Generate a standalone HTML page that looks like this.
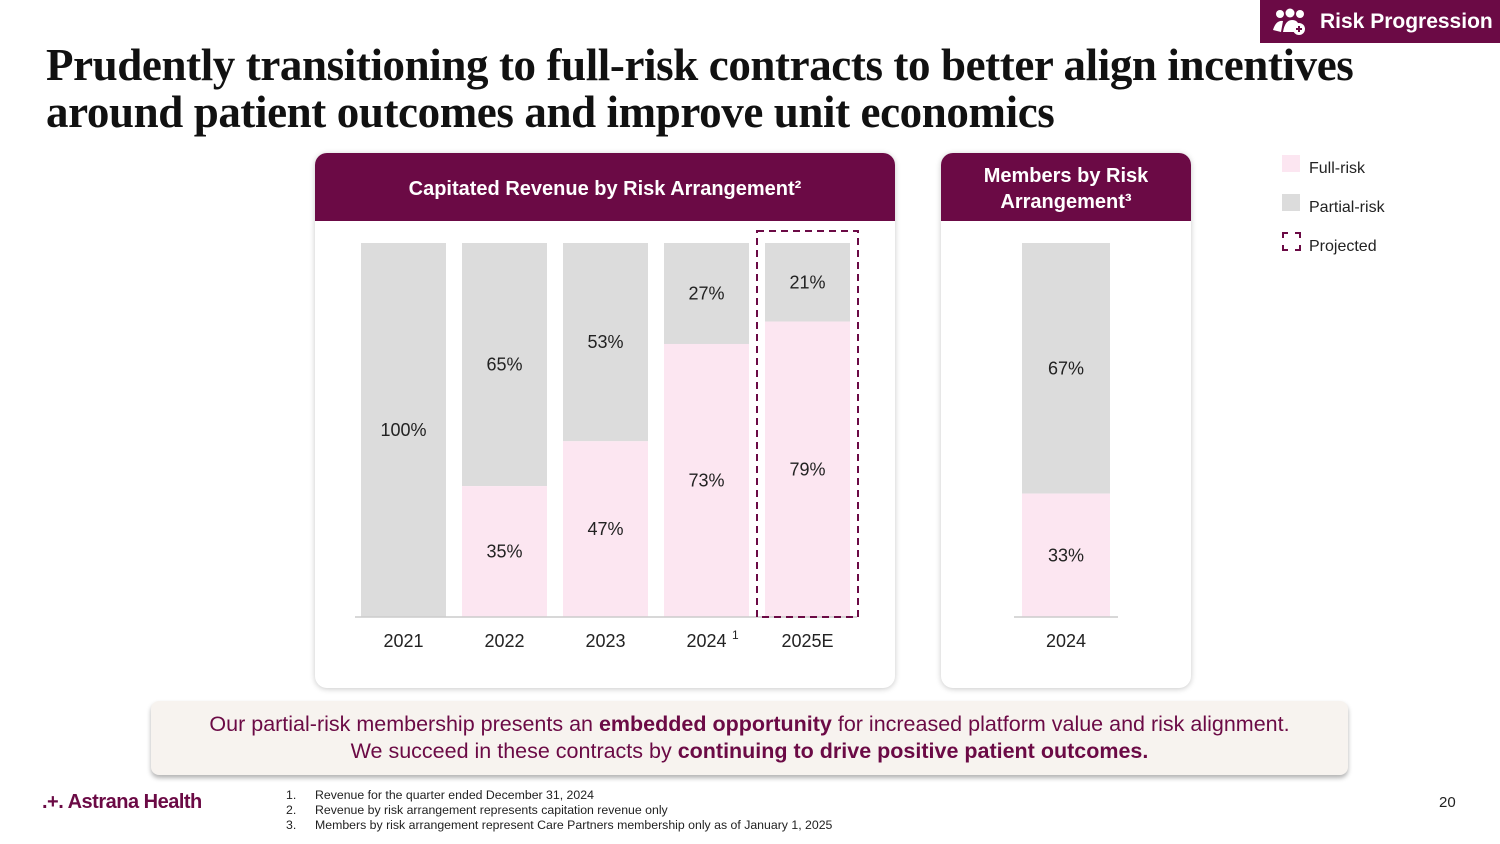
<!DOCTYPE html>
<html><head><meta charset="utf-8">
<style>
body{margin:0;width:1500px;height:844px;background:#fff;position:relative;overflow:hidden;font-family:"Liberation Sans",sans-serif;}
.abs{position:absolute;}
.title{left:46px;top:42px;font-family:"Liberation Serif",serif;font-weight:bold;font-size:45px;line-height:47px;color:#111;letter-spacing:-0.4px;white-space:nowrap;}
.tag{left:1260px;top:0;width:240px;height:43px;background:#6b0a45;color:#fff;font-weight:bold;font-size:21px;line-height:43px;}
.card{background:#fff;border-radius:12px;box-shadow:0 1px 6px rgba(0,0,0,0.22);overflow:hidden;}
.cardhead{background:#6b0a45;color:#fff;font-weight:bold;font-size:20px;text-align:center;}
.leg{font-size:16px;color:#222;}
.callout{left:151px;top:701px;width:1197px;height:74px;background:#f7f3ef;border-radius:8px;box-shadow:0 3px 5px rgba(0,0,0,0.3);text-align:center;color:#6b0a45;font-size:21.5px;line-height:27px;padding-top:10px;box-sizing:border-box;white-space:nowrap;}
.fn{left:286px;top:788px;font-size:12.3px;line-height:15px;color:#222;white-space:nowrap;}
</style></head><body>
<div class="abs tag">
<svg class="abs" style="left:12px;top:8px" width="36" height="28" viewBox="0 0 36 28"><circle cx="8" cy="6" r="4" fill="#fff"/><circle cx="18" cy="5" r="4.5" fill="#fff"/><circle cx="28" cy="6" r="4" fill="#fff"/><path d="M1 22 Q4 12 11 13 L9 24Z M11 24 Q13 12 20 12 Q27 12 27 20 L24 24Z" fill="#fff"/><circle cx="27" cy="21" r="6" fill="#fff"/><path d="M24 21h6M27 18v6" stroke="#6b0a45" stroke-width="2"/></svg>
<span class="abs" style="left:60px;top:0">Risk Progression</span></div>
<div class="abs title">Prudently transitioning to full-risk contracts to better align incentives<br>around patient outcomes and improve unit economics</div>

<div class="abs card" style="left:315px;top:153px;width:580px;height:535px">
<div class="cardhead" style="height:68px;line-height:72px">Capitated Revenue by Risk Arrangement²</div></div>
<div class="abs card" style="left:941px;top:153px;width:250px;height:535px">
<div class="cardhead" style="height:68px;line-height:26px;padding-top:10px;box-sizing:border-box">Members by Risk<br>Arrangement³</div></div>

<svg class="abs" style="left:0;top:0" width="1500" height="844" id="chart"></svg>

<div class="abs" style="left:1282px;top:155px;width:18px;height:17px;background:#fce6f1"></div>
<div class="abs leg" style="left:1309px;top:160px">Full-risk</div>
<div class="abs" style="left:1282px;top:194px;width:18px;height:17px;background:#dcdcdc"></div>
<div class="abs leg" style="left:1309px;top:199px">Partial-risk</div>
<div class="abs" style="left:1282px;top:232px;width:15px;height:15px;border:2px dashed #6b0a45"></div>
<div class="abs leg" style="left:1309px;top:238px">Projected</div>

<div class="abs callout">Our partial-risk membership presents an <b>embedded opportunity</b> for increased platform value and risk alignment.<br>We succeed in these contracts by <b>continuing to drive positive patient outcomes.</b></div>

<div class="abs" style="left:42px;top:791px;font-size:20px;font-weight:bold;color:#6b0a45;letter-spacing:-0.5px">.+. Astrana Health</div>
<div class="abs fn">
<div><span style="display:inline-block;width:29px">1.</span>Revenue for the quarter ended December 31, 2024</div>
<div><span style="display:inline-block;width:29px">2.</span>Revenue by risk arrangement represents capitation revenue only</div>
<div><span style="display:inline-block;width:29px">3.</span>Members by risk arrangement represent Care Partners membership only as of January 1, 2025</div></div>
<div class="abs" style="left:1439px;top:794px;font-size:15px;color:#222">20</div>

<script>
const categories=["2021","2022","2023","2024","2025E"];
const fullRisk=[0,35,47,73,79];
const partialRisk=[100,65,53,27,21];
const memberCats=["2024"];
const memberFull=[33];
const memberPartial=[67];
const svg=document.getElementById('chart');
const NS="http://www.w3.org/2000/svg";
const top0=243,bot=617,H=bot-top0;
const y=v=>bot-v/100*H;
function el(t,a){const e=document.createElementNS(NS,t);for(const k in a)e.setAttribute(k,a[k]);svg.appendChild(e);return e;}
function txt(x,yy,s,size){const t=el('text',{x:x,y:yy,'text-anchor':'middle','font-size':size||18,fill:'#222','font-family':'Liberation Sans, sans-serif'});t.textContent=s;return t;}
function drawBars(cats,full,part,x0,step,w,prefix){
 cats.forEach((c,i)=>{
  const x=x0+i*step;
  const p=el('rect',{x:x,y:y(full[i]+part[i]),width:w,height:y(full[i])-y(full[i]+part[i]),fill:'#dcdcdc'});
  
  
  if(full[i]>0){const f=el('rect',{x:x,y:y(full[i]),width:w,height:bot-y(full[i]),fill:'#fce6f1'});
  
  
  const lf=txt(x+w/2,(y(full[i])+bot)/2+6,full[i]+'%');
  
  }
  const lp=txt(x+w/2,(y(full[i]+part[i])+y(full[i]))/2+6,part[i]+'%');
  
  
  const xl=txt(x+w/2,647,c);
  
  
 });
}
drawBars(categories,fullRisk,partialRisk,361,101,85,'revenue');
drawBars(memberCats,memberFull,memberPartial,1022,0,88,'members');
const ax=el('line',{x1:355,y1:bot,x2:857,y2:bot,stroke:'#ccc','stroke-width':1.5});


const ax2=el('line',{x1:1014,y1:bot,x2:1118,y2:bot,stroke:'#ccc','stroke-width':1.5});


const sup=el('text',{x:732,y:639,'font-size':12,fill:'#222','font-family':'Liberation Sans, sans-serif'});sup.textContent='1';


const dash=el('rect',{x:757,y:231,width:101,height:386,fill:'none',stroke:'#6b0a45','stroke-width':2,'stroke-dasharray':'7,5'});


</script>
</body></html>
